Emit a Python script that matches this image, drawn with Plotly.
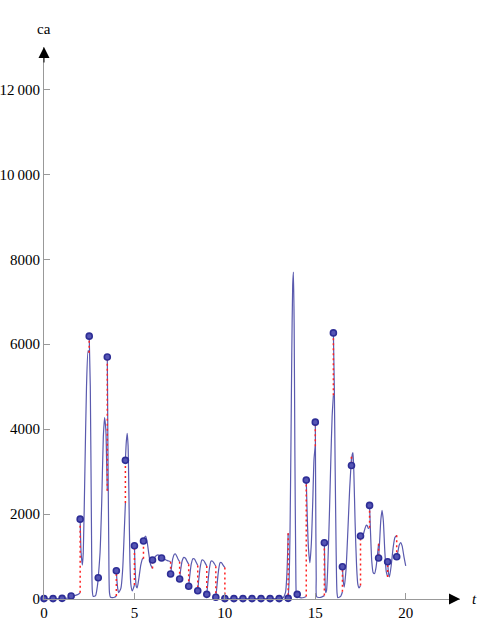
import plotly.graph_objects as go

# observed points (every 0.5 time units)
t_obs = [0, 0.5, 1, 1.5, 2, 2.5, 3, 3.5, 4, 4.5, 5, 5.5, 6, 6.5, 7, 7.5, 8, 8.5, 9, 9.5,
         10, 10.5, 11, 11.5, 12, 12.5, 13, 13.5, 14, 14.5, 15, 15.5, 16, 16.5, 17, 17.5, 18, 18.5, 19, 19.5]
ca_obs = [10, 10, 15, 70, 1880, 6190, 500, 5700, 667, 3265, 1254, 1365, 918, 965, 590, 470, 300, 195, 110, 40,
          10, 10, 10, 10, 10, 10, 10, 15, 110, 2800, 4165, 1325, 6267, 760, 3145, 1482, 2204, 965, 878, 995]

# model curve, one piece per interval (None breaks the line)
curve_t = [
    0, 0.5, None,
    0.5, 1.0, None,
    1.0, 1.5, None,
    1.5, 1.7, 1.9, 2.0, None,
    2.0, 2.05, 2.12, 2.17, 2.26, 2.35, 2.44, 2.5, None,
    2.5, 2.56, 2.62, 2.67, 2.72, 2.85, 2.95, 3.0, None,
    3.0, 3.1, 3.19, 3.28, 3.35, 3.42, 3.46, 3.5, None,
    3.5, 3.53, 3.58, 3.62, 3.68, 3.9, 4.0, None,
    4.0, 4.05, 4.12, 4.25, 4.35, 4.43, 4.5, None,
    4.5, 4.55, 4.6, 4.65, 4.7, 4.75, 4.8, 4.88, 5.0, None,
    5.0, 5.04, 5.1, 5.15, 5.25, 5.35, 5.45, 5.5, None,
    5.5, 5.56, 5.62, 5.7, 5.8, 5.9, 6.0, None,
    6.0, 6.1, 6.2, 6.3, 6.4, 6.5, None,
    6.5, 6.6, 6.7, 6.8, 6.9, 7.0, None,
    7.0, 7.05, 7.12, 7.2, 7.27, 7.35, 7.42, 7.5, None,
    7.5, 7.56, 7.64, 7.73, 7.82, 7.92, 8.0, None,
    8.0, 8.06, 8.14, 8.23, 8.32, 8.42, 8.5, None,
    8.5, 8.56, 8.64, 8.73, 8.82, 8.92, 9.0, None,
    9.0, 9.06, 9.14, 9.23, 9.32, 9.42, 9.5, None,
    9.5, 9.56, 9.64, 9.73, 9.8, 9.9, 10.0, None,
    10.0, 10.5, None, 10.5, 11.0, None, 11.0, 11.5, None,
    11.5, 12.0, None, 12.0, 12.5, None, 12.5, 13.0, None,
    13.0, 13.2, 13.35, 13.43, 13.5, None,
    13.5, 13.55, 13.6, 13.65, 13.7, 13.75, 13.79, 13.83, 13.87, 13.92, 13.96, 14.0, None,
    14.0, 14.1, 14.3, 14.5, None,
    14.5, 14.55, 14.62, 14.7, 14.78, 14.86, 14.93, 15.0, None,
    15.0, 15.02, 15.05, 15.08, 15.3, 15.5, None,
    15.5, 15.53, 15.57, 15.62, 15.7, 15.78, 15.86, 15.93, 16.0, None,
    16.0, 16.05, 16.1, 16.15, 16.2, 16.25, 16.4, 16.5, None,
    16.5, 16.55, 16.6, 16.7, 16.8, 16.9, 17.0, None,
    17.0, 17.04, 17.08, 17.13, 17.2, 17.28, 17.35, 17.42, 17.5, None,
    17.5, 17.58, 17.66, 17.74, 17.82, 17.88, 17.93, 18.0, None,
    18.0, 18.05, 18.12, 18.2, 18.28, 18.36, 18.44, 18.5, None,
    18.5, 18.55, 18.62, 18.69, 18.76, 18.84, 18.92, 19.0, None,
    19.0, 19.05, 19.1, 19.2, 19.3, 19.4, 19.5, None,
    19.5, 19.56, 19.64, 19.72, 19.8, 19.9, 20.0,
]
curve_ca = [
    10, 10, None,
    10, 12, None,
    15, 20, None,
    70, 80, 110, 150, None,
    1880, 1100, 800, 1080, 3000, 5000, 5850, 5800, None,
    6190, 5000, 1900, 200, 60, 80, 300, 480, None,
    500, 1100, 2260, 3820, 4275, 3980, 3270, 2550, None,
    5700, 3800, 1300, 150, 40, 40, 70, None,
    667, 350, 150, 250, 700, 1500, 2260, None,
    3265, 3700, 3900, 3600, 2300, 900, 350, 190, 330, None,
    1254, 700, 300, 260, 500, 800, 950, 950, None,
    1365, 1450, 1480, 1350, 1050, 800, 720, None,
    918, 970, 1020, 1040, 1020, 990, None,
    965, 950, 930, 910, 895, 880, None,
    590, 750, 950, 1050, 1060, 1000, 930, 880, None,
    470, 700, 900, 980, 960, 880, 820, None,
    300, 550, 820, 950, 940, 860, 790, None,
    195, 470, 760, 920, 910, 840, 780, None,
    110, 380, 700, 890, 890, 830, 770, None,
    40, 300, 640, 850, 860, 800, 740, None,
    10, 10, None, 10, 10, None, 10, 10, None,
    10, 10, None, 10, 10, None, 10, 10, None,
    10, 20, 150, 600, 1550, None,
    15, 400, 1500, 3500, 5800, 7400, 7700, 6500, 3500, 800, 50, 30, None,
    110, 40, 30, 60, None,
    2800, 2000, 1200, 850, 1300, 2300, 3300, 3600, None,
    4165, 2500, 500, 50, 40, 80, None,
    1325, 600, 150, 200, 900, 2000, 3300, 4300, 4800, None,
    6267, 5000, 3000, 1200, 150, 30, 60, 170, None,
    760, 400, 280, 700, 1600, 2600, 3350, None,
    3145, 3400, 3450, 3000, 1800, 800, 350, 260, 320, None,
    1482, 1440, 1530, 1650, 1740, 1720, 1660, 1680, None,
    2204, 1600, 900, 620, 600, 750, 1050, 1300, None,
    965, 1300, 1850, 2090, 1850, 1150, 650, 520, None,
    878, 600, 520, 800, 1200, 1450, 1500, None,
    995, 1100, 1270, 1330, 1250, 1000, 780,
]

y_ticks = [0, 2000, 4000, 6000, 8000, 10000, 12000]
y_labels = ["0", "2000", "4000", "6000", "8000", "10\u2009000", "12\u2009000"]
x_ticks = [0, 5, 10, 15, 20]

# end value of each curve piece -> red jump line to the next observed point
ends = []
for i in range(len(curve_t)):
    if curve_t[i] is not None and (i + 1 == len(curve_t) or curve_t[i + 1] is None):
        ends.append((curve_t[i], curve_ca[i]))
jump_x, jump_y = [], []
for t_end, v_end in ends:
    if t_end in t_obs:
        j = t_obs.index(t_end)
        jump_x += [t_end, t_end, None]
        jump_y += [v_end, ca_obs[j], None]

fig = go.Figure()
fig.add_trace(go.Scatter(x=curve_t, y=curve_ca, mode="lines",
                         line=dict(color="#5a5aae", width=1.2, shape="spline", smoothing=0.6),
                         connectgaps=False, cliponaxis=False))
fig.add_trace(go.Scatter(x=jump_x, y=jump_y, mode="lines",
                         line=dict(color="#ff2020", width=1.5, dash="2px,3px"), cliponaxis=False))
fig.add_trace(go.Scatter(x=t_obs, y=ca_obs, mode="markers", cliponaxis=False,
                         marker=dict(size=6, color="#5555b4", line=dict(color="#2e2e96", width=1.6))))

axis_font = dict(family="Liberation Serif, Times New Roman, serif", size=15, color="black")
fig.update_xaxes(range=[0, 23], tickvals=x_ticks, ticks="inside", ticklen=6, tickcolor="#999999",
                 showline=True, linecolor="#999999", linewidth=1, showgrid=False, zeroline=False,
                 tickfont=axis_font, automargin=False)
fig.update_yaxes(range=[0, 13000], tickvals=y_ticks, ticktext=y_labels, ticks="inside", ticklen=6,
                 tickcolor="#999999", showline=True, linecolor="#999999", linewidth=1,
                 showgrid=False, zeroline=False, tickfont=axis_font, automargin=False)

# axis arrows and labels
fig.add_annotation(x=23, y=0, ax=22.5, ay=0, xref="x", yref="y", axref="x", ayref="y",
                   showarrow=True, arrowhead=2, arrowsize=2.2, arrowwidth=1, arrowcolor="black", text="")
fig.add_annotation(x=0, y=13000, ax=0, ay=12600, xref="x", yref="y", axref="x", ayref="y",
                   showarrow=True, arrowhead=2, arrowsize=2.2, arrowwidth=1, arrowcolor="black", text="")
fig.add_annotation(x=0, y=13000, yshift=18, text="ca", showarrow=False, font=axis_font)
fig.add_annotation(x=23, y=0, xshift=14, text="<i>t</i>", showarrow=False, font=axis_font)

fig.update_layout(width=480, height=640, showlegend=False,
                  paper_bgcolor="white", plot_bgcolor="white",
                  margin=dict(l=44, r=20, t=47, b=41))

# page body has a default 8px margin; drop it so the figure sits at 0,0
fig.write_html("out.html", config={"displayModeBar": False},
               post_script="document.body.style.margin='0';")
